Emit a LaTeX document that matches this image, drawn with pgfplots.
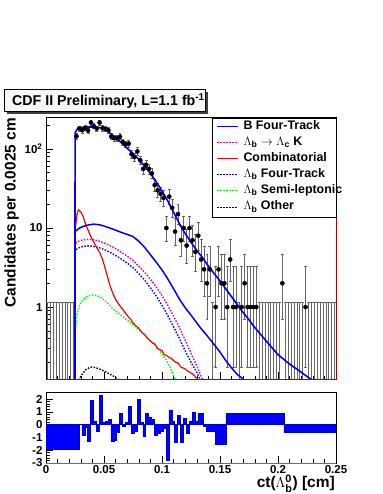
\documentclass[border=0pt]{standalone}
\usepackage{amsmath}
\usepackage{pgfplots}
\pgfplotsset{compat=1.18}
\usepackage{pgfplotstable}
\usepackage{fontspec}
\setmainfont{Liberation Sans}

% counts per bin (x = bin centre), asymmetric Poisson errors
\pgfplotstableread{
x y ep em
0.02625 145 13.0 12.0
0.02875 182 14.5 13.5
0.03125 173 14.2 13.2
0.03375 184 14.6 13.6
0.03625 171 14.1 13.1
0.03875 216 15.7 14.7
0.04125 194 14.9 13.9
0.04375 181 14.5 13.5
0.04625 216 15.7 14.7
0.04875 183 14.5 13.5
0.05125 179 14.4 13.4
0.05375 173 14.2 13.2
0.05625 144 13.0 12.0
0.05875 137 12.7 11.7
0.06125 136 12.7 11.7
0.06375 143 13.0 12.0
0.06625 122 12.0 11.0
0.06875 115 11.7 10.7
0.07125 117 11.8 10.8
0.07375 86 10.3 9.3
0.07625 79 9.9 8.9
0.07875 93 10.6 9.6
0.08125 72 9.5 8.5
0.08375 56 8.5 7.5
0.08625 63 8.9 7.9
0.08875 56 8.5 7.5
0.09125 49 8.0 7.0
0.09375 35 6.9 5.9
0.09625 30 6.5 5.5
0.09875 27 6.2 5.2
0.10125 24 5.9 4.9
0.10375 10 4.27 3.11
0.10625 25 6.0 5.0
0.10875 18 5.2 4.2
0.11125 9 4.11 2.94
0.11375 15 4.9 3.9
0.11625 7 3.77 2.58
0.11875 10 4.27 3.11
0.12125 6 3.58 2.38
0.12375 10 4.27 3.11
0.12625 7 3.77 2.58
0.12875 5 3.38 2.16
0.13125 8 3.95 2.77
0.13375 4 3.16 1.91
0.13625 3 2.92 1.63
0.13875 2 2.64 1.29
0.14125 3 2.92 1.63
0.14625 1 2.30 0.827
0.14875 3 2.92 1.63
0.15125 2 2.64 1.29
0.15375 2 2.64 1.29
0.15625 1 2.30 0.827
0.15875 4 3.16 1.91
0.16125 1 2.30 0.827
0.16375 1 2.30 0.827
0.16875 1 2.30 0.827
0.17125 2 2.64 1.29
0.17375 1 2.30 0.827
0.17625 1 2.30 0.827
0.17875 1 2.30 0.827
0.18125 1 2.30 0.827
0.20375 2 2.64 1.29
0.22375 1 2.30 0.827
}\datatab

% empty bins: upper error only
\pgfplotstableread{
x y ep
0.00125 0.0001 1.148
0.00375 0.0001 1.148
0.00625 0.0001 1.148
0.00875 0.0001 1.148
0.01125 0.0001 1.148
0.01375 0.0001 1.148
0.01625 0.0001 1.148
0.01875 0.0001 1.148
0.02125 0.0001 1.148
0.02375 0.0001 1.148
0.14375 0.0001 1.148
0.16625 0.0001 1.148
0.18375 0.0001 1.148
0.18625 0.0001 1.148
0.18875 0.0001 1.148
0.19125 0.0001 1.148
0.19375 0.0001 1.148
0.19625 0.0001 1.148
0.19875 0.0001 1.148
0.20125 0.0001 1.148
0.20625 0.0001 1.148
0.20875 0.0001 1.148
0.21125 0.0001 1.148
0.21375 0.0001 1.148
0.21625 0.0001 1.148
0.21875 0.0001 1.148
0.22125 0.0001 1.148
0.22625 0.0001 1.148
0.22875 0.0001 1.148
0.23125 0.0001 1.148
0.23375 0.0001 1.148
0.23625 0.0001 1.148
0.23875 0.0001 1.148
0.24125 0.0001 1.148
0.24375 0.0001 1.148
0.24625 0.0001 1.148
0.24875 0.0001 1.148
}\zerotab

% pulls, x = left bin edge
\pgfplotstableread{
x r
0 -1.9
0.0285 0.05
0.031 -0.8
0.0335 -0.2
0.036 -1.3
0.0385 1.9
0.041 0.3
0.0435 -0.5
0.046 2.3
0.0485 0.2
0.051 0.3
0.0535 0.4
0.056 -1.3
0.0585 -1.2
0.061 -0.6
0.0635 0.9
0.066 -0.1
0.0685 0.2
0.071 1.4
0.0735 -0.7
0.076 -0.5
0.0785 1.95
0.081 0.2
0.0835 -0.9
0.086 0.85
0.0885 0.6
0.091 0.4
0.0935 -0.8
0.096 -0.7
0.0985 -0.5
0.101 -0.3
0.1035 -2.8
0.106 1.15
0.1085 0.3
0.111 -1.4
0.1135 0.7
0.116 -1.4
0.1185 0.5
0.121 -0.7
0.1235 0.3
0.126 1.0
0.1285 0.3
0.131 0.9
0.1335 0.9
0.136 -0.1
0.1385 -0.5
0.146 -1.55
0.155 0.85
0.205 -0.6
0.25 -0.6
}\pulltab

\begin{document}
\begin{tikzpicture}[x=1pt,y=1pt]
\path[use as bounding box] (0,0) rectangle (382,494);

\pgfplotsset{
  cdf/.style={
    scale only axis, anchor=south west,
    xmin=0, xmax=0.25,
    xtick={0,0.05,0.1,0.15,0.2,0.25},
    minor xtick={0.01,0.02,0.03,0.04,0.06,0.07,0.08,0.09,0.11,0.12,0.13,0.14,0.16,0.17,0.18,0.19,0.21,0.22,0.23,0.24},
    tick align=inside, xtick pos=left, ytick pos=left,
    major tick length=7pt, minor tick length=3.5pt,
    tick style={black, line width=0.6pt},
    axis line style={line width=0.7pt},
    tick label style={font=\fontsize{11.5}{12}\selectfont\bfseries},
  }
}

\begin{axis}[cdf,
  at={(46pt,115pt)}, width=290pt, height=262pt,
  ymode=log, ymin=0.123, ymax=254,
  xticklabels={},
  ytick={1,10,100}, yticklabels={1,10,10\textsuperscript{2}},
  minor ytick={0.2,0.3,0.4,0.5,0.6,0.7,0.8,0.9,2,3,4,5,6,7,8,9,20,30,40,50,60,70,80,90,200},
]
% empty bins
\addplot[only marks, mark=none,
  error bars/.cd, y dir=plus, y explicit,
  error bar style={black!60, line width=0.6pt},
  error mark options={black!60, rotate=90, mark size=1.45pt, line width=0.6pt}]
  table[x=x, y=y, y error plus=ep]{\zerotab};
% data
\addplot[only marks, mark=*, mark size=2.1pt, black,
  error bars/.cd, y dir=both, y explicit,
  error bar style={black!60, line width=0.6pt},
  error mark options={black!60, rotate=90, mark size=1.45pt, line width=0.6pt}]
  table[x=x, y=y, y error plus=ep, y error minus=em]{\datatab};

% Lambda_b other
\addplot[black, line width=1.4pt, dash pattern=on 1.5pt off 1.5pt] coordinates {
(0.0277,0.1)(0.029,0.125)(0.031,0.14)(0.034,0.16)(0.037,0.17)(0.039,0.174)(0.042,0.172)(0.045,0.167)(0.049,0.158)(0.052,0.15)(0.055,0.142)(0.058,0.134)(0.062,0.123)(0.064,0.115)};
% semi-leptonic
\addplot[green, line width=1.4pt, dash pattern=on 1.5pt off 1.5pt] coordinates {
(0.025,0.01)(0.02505,0.5)(0.027,0.85)(0.029,1.05)(0.032,1.25)(0.035,1.36)(0.0395,1.42)(0.044,1.4)(0.048,1.3)(0.053,1.13)(0.058,0.94)(0.065,0.78)(0.075,0.6)(0.083,0.47)(0.092,0.35)(0.098,0.28)(0.104,0.21)(0.108,0.16)(0.111,0.125)(0.113,0.1)};
% Lambda_b four-track
\addplot[blue, line width=1.4pt, dash pattern=on 1.5pt off 1.5pt] coordinates {
(0.025,0.01)(0.02505,5.2)(0.028,5.6)(0.032,5.85)(0.036,5.95)(0.04,5.9)(0.045,5.7)(0.05,5.35)(0.055,4.95)(0.06,4.5)(0.065,4.05)(0.07,3.6)(0.075,3.15)(0.08,2.65)(0.085,2.2)(0.09,1.75)(0.095,1.38)(0.1,1.05)(0.105,0.78)(0.11,0.56)(0.115,0.4)(0.12,0.28)(0.125,0.2)(0.13,0.15)(0.134,0.11)};
% Lambda_b -> Lambda_c K
\addplot[magenta, line width=1.4pt, dash pattern=on 1.5pt off 1.5pt] coordinates {
(0.025,0.01)(0.02505,6.3)(0.028,6.8)(0.032,7.1)(0.036,7.2)(0.04,7.15)(0.045,6.9)(0.05,6.5)(0.055,6.0)(0.06,5.5)(0.065,4.95)(0.07,4.4)(0.075,3.9)(0.08,3.3)(0.085,2.75)(0.09,2.25)(0.095,1.8)(0.1,1.4)(0.105,1.05)(0.11,0.77)(0.115,0.55)(0.12,0.38)(0.125,0.26)(0.13,0.18)(0.134,0.13)(0.137,0.1)};
% combinatorial
\addplot[red, line width=1.2pt] coordinates {
(0.025,0.01)(0.02505,9)(0.0265,14.5)(0.028,17)(0.030,16)(0.032,14)(0.0336,11.8)(0.036,9.6)(0.038,8.2)(0.040,7.1)(0.042,6.3)(0.0445,5.4)(0.0466,4.8)(0.049,3.9)(0.051,3.1)(0.0534,2.3)(0.0555,1.8)(0.058,1.45)(0.060,1.25)(0.0621,1.12)(0.065,0.98)(0.068,0.86)(0.071,0.75)(0.073,0.7)(0.075,0.63)(0.078,0.57)(0.080,0.54)(0.083,0.47)(0.085,0.45)(0.087,0.41)(0.090,0.37)(0.092,0.35)(0.094,0.34)(0.096,0.30)(0.098,0.29)(0.10,0.28)(0.102,0.25)(0.104,0.245)(0.106,0.23)(0.108,0.225)(0.11,0.21)(0.112,0.2)(0.114,0.195)(0.116,0.175)(0.118,0.17)(0.12,0.165)(0.122,0.155)(0.124,0.15)(0.127,0.14)(0.129,0.13)(0.131,0.12)(0.133,0.105)};
% B four-track
\addplot[blue, line width=1.5pt] coordinates {
(0.025,0.01)(0.02505,9.0)(0.028,9.8)(0.032,10.5)(0.036,10.9)(0.041,11.2)(0.046,11.0)(0.05,10.6)(0.055,10.0)(0.06,9.4)(0.065,8.8)(0.07,8.3)(0.075,7.8)(0.08,6.8)(0.085,5.7)(0.09,4.6)(0.095,3.7)(0.1,2.95)(0.104,2.4)(0.11,1.7)(0.1155,1.23)(0.12,0.98)(0.125,0.79)(0.13,0.63)(0.133,0.55)(0.138,0.45)(0.144,0.35)(0.15,0.27)(0.155,0.21)(0.16,0.17)(0.165,0.14)(0.17,0.123)(0.175,0.1)};
% total fit
\addplot[blue, line width=1.6pt] coordinates {
(0.025,0.01)(0.02505,160)(0.0265,175)(0.028,183)(0.030,187)(0.033,189)(0.036,190)(0.040,190)(0.044,189)(0.047,186)(0.050,178)(0.055,160)(0.060,140)(0.065,120)(0.070,102)(0.075,88)(0.080,74)(0.085,61)(0.090,49)(0.095,38.5)(0.100,29.5)(0.105,22)(0.110,15.8)(0.1155,11)(0.120,8.5)(0.125,6.6)(0.130,5.2)(0.135,4.2)(0.140,3.3)(0.145,2.65)(0.150,2.14)(0.155,1.7)(0.160,1.35)(0.165,1.07)(0.170,0.85)(0.175,0.69)(0.180,0.55)(0.190,0.37)(0.200,0.25)(0.210,0.19)(0.220,0.15)(0.230,0.117)(0.235,0.1)};
\end{axis}
\draw[red!70!black, line width=0.7pt] (46,115) -- (336,115) -- (336,277);

\begin{axis}[cdf,
  at={(46pt,31pt)}, width=290pt, height=70.3pt,
  ymin=-3, ymax=2.5,
  xticklabels={0,0.05,0.1,0.15,0.2,0.25},
  ytick={-3,-2,-1,0,1,2}, yticklabels={-3,-2,-1,0,1,2},
  minor y tick num=4,
  xticklabel style={yshift=1.5pt},
]
\addplot[const plot mark left, fill=blue, draw=blue!80!black, line width=0.6pt]
  table[x=x, y=r]{\pulltab} \closedcycle;
\end{axis}
\draw[red!80, line width=0.7pt] (46,31) -- (336,31);

% axis titles
\node[rotate=90, anchor=base east, inner sep=0pt, font=\fontsize{15.4}{16}\selectfont\bfseries]
  at (15.5,376) {Candidates per 0.0025 cm};
\node[anchor=base east, inner sep=0pt, font=\fontsize{15.5}{16}\selectfont\bfseries]
  at (335,6.5) {ct($\Lambda^{\text{0}}_{\text{b}}$) [cm]};

% title box
\fill[black!75] (6.5,380) rectangle (207.5,402.2);
\draw[line width=0.6pt, fill=gray!7] (4,382.3) rectangle (205,404.7);
\node[anchor=base west, inner sep=0pt, font=\fontsize{14.2}{15}\selectfont\bfseries]
  at (12,388.5) {CDF II Preliminary, L=1.1 fb\textsuperscript{-1}};

% legend
\draw[line width=0.6pt, fill=white] (212,277) rectangle (336,376);
\begin{scope}[font=\fontsize{12.4}{13}\selectfont\bfseries]
\draw[blue, line width=1.5pt] (217,367.3) -- (238,367.3);
\node[anchor=mid west, inner sep=0pt] at (243.3,367.3) {B Four-Track};
\draw[magenta, line width=1.4pt, dash pattern=on 1.5pt off 1.5pt] (217,351.4) -- (238,351.4);
\node[anchor=mid west, inner sep=0pt] at (243.3,351.4) {$\Lambda$\textsubscript{b} $\rightarrow$ $\Lambda$\textsubscript{c} K};
\draw[red, line width=1.2pt] (217,335.3) -- (238,335.3);
\node[anchor=mid west, inner sep=0pt] at (243.3,335.3) {Combinatorial};
\draw[blue, line width=1.4pt, dash pattern=on 1.5pt off 1.5pt] (217,319.5) -- (238,319.5);
\node[anchor=mid west, inner sep=0pt] at (243.3,319.5) {$\Lambda$\textsubscript{b} Four-Track};
\draw[green, line width=1.4pt, dash pattern=on 1.5pt off 1.5pt] (217,303.3) -- (238,303.3);
\node[anchor=mid west, inner sep=0pt] at (243.3,303.3) {$\Lambda$\textsubscript{b} Semi-leptonic};
\draw[black, line width=1.4pt, dash pattern=on 1.5pt off 1.5pt] (217,286.7) -- (238,286.7);
\node[anchor=mid west, inner sep=0pt] at (243.3,286.7) {$\Lambda$\textsubscript{b} Other};
\end{scope}
\end{tikzpicture}
\end{document}
